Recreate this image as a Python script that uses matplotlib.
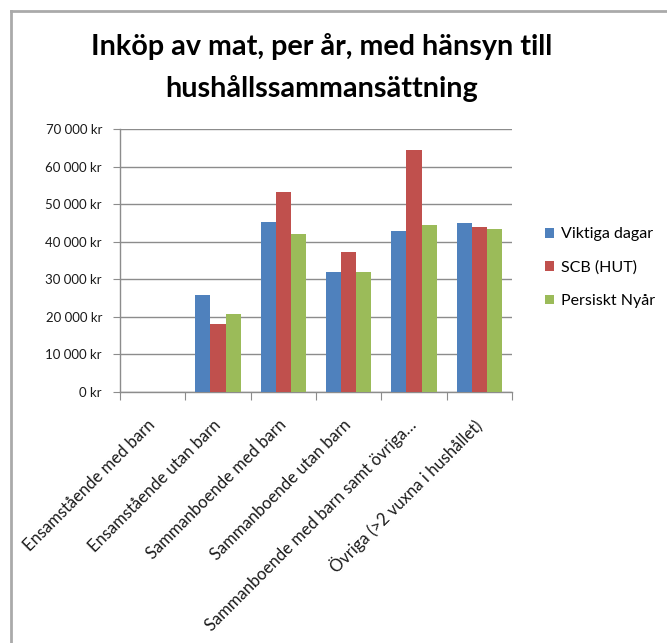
import matplotlib
matplotlib.use("Agg")
import matplotlib.pyplot as plt
from matplotlib.ticker import FuncFormatter, MultipleLocator
from matplotlib.lines import Line2D
import numpy as np

plt.rcParams['font.family'] = ['Lato', 'DejaVu Sans']

categories = [
    "Ensamstående med barn",
    "Ensamstående utan barn",
    "Sammanboende med barn",
    "Sammanboende utan barn",
    "Sammanboende med barn samt övriga…",
    "Övriga (>2 vuxna i hushållet)",
]
series_names = ["Viktiga dagar", "SCB (HUT)", "Persiskt Nyår"]
viktiga = [0, 25900, 45300, 32000, 42800, 44900]
scb = [0, 18200, 53100, 37200, 64500, 43800]
persiskt = [0, 20700, 42000, 32000, 44500, 43500]
colors = ["#4F81BD", "#C0504D", "#9BBB59"]

W, H = 667, 643
fig = plt.figure(figsize=(W / 100, H / 100), dpi=100)
ax = fig.add_axes([120 / W, 1 - 392 / H, 392 / W, 263 / H])

x = np.arange(len(categories))
bw = 0.23
for i, (vals, c, name) in enumerate(zip([viktiga, scb, persiskt], colors, series_names)):
    ax.bar(x + (i - 1) * bw, vals, width=bw, color=c, label=name, zorder=3)

ax.set_xlim(-0.5, len(categories) - 0.5)
ax.set_ylim(0, 70000)
ax.yaxis.set_major_locator(MultipleLocator(10000))
ax.yaxis.set_major_formatter(FuncFormatter(lambda v, p: f"{int(v):,} kr".replace(",", " ")))
ax.grid(axis='y', color='#8C8C8C', linewidth=1, zorder=0)

for s in ['top', 'right']:
    ax.spines[s].set_visible(False)
for s in ['left', 'bottom']:
    ax.spines[s].set_color('#8C8C8C')
    ax.spines[s].set_linewidth(1)

ax.set_xticks(np.arange(len(categories) + 1) - 0.5)
ax.set_xticklabels([])
ax.set_xticks(x, minor=True)
ax.set_xticklabels(categories, minor=True, rotation=45, ha='right', va='center',
                   rotation_mode='anchor', fontsize=12, color='#1a1a1a')
ax.tick_params(axis='x', which='major', length=6, color='#8C8C8C', direction='out')
ax.tick_params(axis='x', which='minor', length=0, pad=22)
ax.tick_params(axis='y', length=5, color='#8C8C8C', labelsize=9.5, labelcolor='#1a1a1a', pad=8)

fig.text(322 / W, 1 - 47 / H, "Inköp av mat, per år, med hänsyn till",
         ha='center', va='center', fontsize=20.7, fontweight='bold')
fig.text(322 / W, 1 - 88 / H, "hushållssammansättning",
         ha='center', va='center', fontsize=20.7, fontweight='bold')

leg = fig.legend(loc='upper left', bbox_to_anchor=(531 / W, 1 - 213 / H),
                 frameon=False, fontsize=11.5, handlelength=0.55, handleheight=0.55,
                 handletextpad=0.45, labelspacing=1.2)

# chart-area border (only top and left visible in the crop)
fig.add_artist(Line2D([11 / W, 1], [1 - 11 / H, 1 - 11 / H], color='#AAAAAA', linewidth=2,
                      transform=fig.transFigure))
fig.add_artist(Line2D([11 / W, 11 / W], [0, 1 - 11 / H], color='#AAAAAA', linewidth=2,
                      transform=fig.transFigure))

fig.savefig("out.png", dpi=100)
